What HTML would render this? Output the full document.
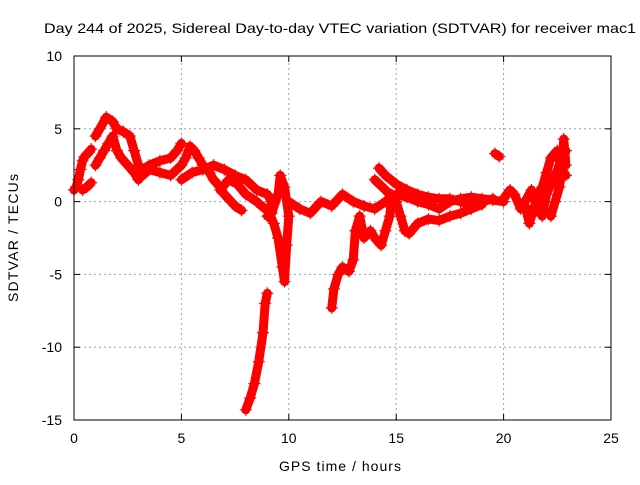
<!DOCTYPE html>
<html><head><meta charset="utf-8"><style>
body{margin:0;background:#fff}
svg text{font-family:"Liberation Sans",sans-serif;font-size:14px;fill:#000}
</style></head><body>
<svg id="chart" width="640" height="480">
<rect width="640" height="480" fill="#fff"/>
<g id="grid"></g>
<g id="marks"></g>
<rect x="74" y="56" width="537" height="364" fill="none" stroke="#000" stroke-width="1"/>
<g id="ticks"></g>
<text x="44" y="33" textLength="592" lengthAdjust="spacingAndGlyphs">Day 244 of 2025, Sidereal Day-to-day VTEC variation (SDTVAR) for receiver mac1</text>
<text x="340" y="471" text-anchor="middle" textLength="122">GPS time / hours</text>
<text transform="translate(18,238) rotate(-90)" text-anchor="middle" textLength="128">SDTVAR / TECUs</text>
</svg>
<script>
const xTicks=[0,5,10,15,20,25];
const yTicks=[10,5,0,-5,-10,-15];
const trackA=[[0,0.8],[0.1,1],[0.2,1.5],[0.3,2.2],[0.4,2.8],[0.5,3.1],[0.7,3.4],[0.8,3.6]];
const trackB=[[0.4,0.8],[0.6,1],[0.8,1.3]];
const trackC=[[1,2.5],[1.2,3],[1.4,3.5],[1.6,4],[1.8,4.5],[2,3.5],[2.2,3],[2.5,2.5],[2.8,2],[3,1.5]];
const trackD=[[1,4.5],[1.2,5],[1.5,5.8],[1.8,5.5],[2,5],[2.3,4.8],[2.6,4.5],[2.8,3.5],[3,2.5],[3.2,2.2],[3.5,2.5],[4,2.8],[4.5,3],[4.8,3.5],[5,4]];
const trackE=[[3.2,1.8],[3.5,2.2],[4,2],[4.5,1.8],[5,2.5],[5.2,3],[5.4,3.8],[5.6,3.5],[5.8,3],[6,2.5],[6.3,2],[6.5,1.5],[6.8,1],[7,0.5],[7.5,-0.3],[7.8,-0.6]];
const trackF=[[5,1.5],[5.5,2],[6,2.2],[6.5,2.5],[7,2.2],[7.5,1.8],[8,1.5],[8.5,0.8],[9,0.5],[9.2,0]];
const trackG=[[8.0,-14.3],[8.2,-13.5],[8.4,-12.5],[8.6,-11],[8.8,-9],[8.9,-7],[9,-6.3]];
const trackH=[[9.0,-0.5],[9.3,-1.5],[9.5,-2.5],[9.7,-4.5],[9.8,-5.5],[9.9,-3],[10,-1],[9.8,1],[9.6,1.8],[9.5,0.5],[9.2,-0.8],[9.0,-1]];
const trackI=[[10,0],[10.5,-0.5],[11,-0.8],[11.5,0],[12,-0.3],[12.5,0.5],[13,0],[13.5,-0.3],[14,-0.5],[14.5,0],[15,0.5],[15.5,0.3],[16,0],[16.5,-0.2],[17,-0.5],[17.5,0],[18,0.2],[18.5,0.3],[19,0.2],[19.5,0.1],[20,0]];
const trackJ=[[12,-7.3],[12.1,-6],[12.3,-5],[12.5,-4.5],[12.8,-4.8],[13,-4],[13.1,-2],[13.3,-1],[13.5,-2.5],[13.8,-2],[14,-2.5],[14.3,-3],[14.5,-2],[14.7,-1],[14.8,0.5]];
const trackK=[[14.2,2.3],[14.5,1.8],[15,1.2],[15.5,0.8],[16,0.5],[16.5,0.3],[17,0.2],[17.5,0.2],[18,0],[18.5,-0.3],[19,0],[19.5,0.2]];
const trackL=[[14,1.5],[14.5,0.8],[15,0],[15.2,-1],[15.4,-2],[15.6,-2.2],[16,-1.5],[16.5,-1.2],[17,-1.3],[17.5,-1],[18,-0.8],[18.5,-0.5],[19,-0.2]];
const trackM=[[19.6,3.3],[19.8,3.1]];
const trackN=[[20,0.2],[20.3,0.8],[20.5,0.5],[20.8,-0.5],[21,-0.3],[21.2,-1.5],[21.4,-0.5],[21.6,0.5],[21.8,1],[22,2],[22.2,3],[22.5,3.5],[22.7,2],[22.8,4.3],[22.9,2.5]];
const trackO=[[21,0],[21.3,0.8],[21.6,-0.5],[21.8,-1],[22,0.5],[22.3,1.5],[22.6,2.5],[22.9,1.8]];
const trackP=[[6.8,0.8],[7.2,1.5],[7.6,1.2],[8,0.5],[8.5,0],[8.9,-0.5]];
const trackQ=[[22.2,-1],[22.4,0],[22.6,1],[22.8,3],[22.9,3.5]];
const tracks=[trackA,trackB,trackC,trackD,trackE,trackF,trackG,trackH,trackI,trackJ,trackK,trackL,trackM,trackN,trackO,trackP,trackQ];

const NS="http://www.w3.org/2000/svg";
const X0=74,X1=611,Y0=420,Y1=56;
const xs=v=>X0+(v-0)/(25-0)*(X1-X0);
const ys=v=>Y0-(v+15)/(25)*(Y0-Y1);
const grid=document.getElementById('grid'),ticks=document.getElementById('ticks'),marks=document.getElementById('marks');
function mk(t,a,p){const e=document.createElementNS(NS,t);for(const k in a)e.setAttribute(k,a[k]);p.appendChild(e);return e;}
xTicks.forEach(v=>{
  const x=xs(v);
  if(v>0&&v<25){const g=mk('line',{x1:x,x2:x,y1:Y0,y2:Y1,stroke:'#a0a0a0','stroke-dasharray':'2,3'},grid);
  
  }
  mk('line',{x1:x,x2:x,y1:Y0,y2:Y0-6,stroke:'#000'},ticks);
  mk('line',{x1:x,x2:x,y1:Y1,y2:Y1+6,stroke:'#000'},ticks);
  const t=mk('text',{x:x,y:443,'text-anchor':'middle'},ticks);t.textContent=v;
  
  
});
yTicks.forEach(v=>{
  const y=ys(v);
  if(v>-15&&v<10){const g=mk('line',{x1:X0,x2:X1,y1:y,y2:y,stroke:'#a0a0a0','stroke-dasharray':'2,3'},grid);
  
  }
  mk('line',{x1:X0,x2:X0+6,y1:y,y2:y,stroke:'#000'},ticks);
  mk('line',{x1:X1,x2:X1-6,y1:y,y2:y,stroke:'#000'},ticks);
  const t=mk('text',{x:62,y:y+5,'text-anchor':'end'},ticks);t.textContent=v;
  
  
});
tracks.forEach(tr=>{
  const pl=mk('polyline',{points:tr.map(p=>xs(p[0])+','+ys(p[1])).join(' '),fill:'none',stroke:'#ff0000','stroke-width':9,'stroke-linejoin':'round','stroke-linecap':'round'},marks);
  
  
  tr.forEach(p=>{
    const x=xs(p[0]),y=ys(p[1]);
    const m=mk('path',{d:`M${x-6},${y}H${x+6}M${x},${y-6}V${y+6}`,stroke:'#ff0000','stroke-width':1.2},marks);
    
    
  });
});
</script>
</body></html>
